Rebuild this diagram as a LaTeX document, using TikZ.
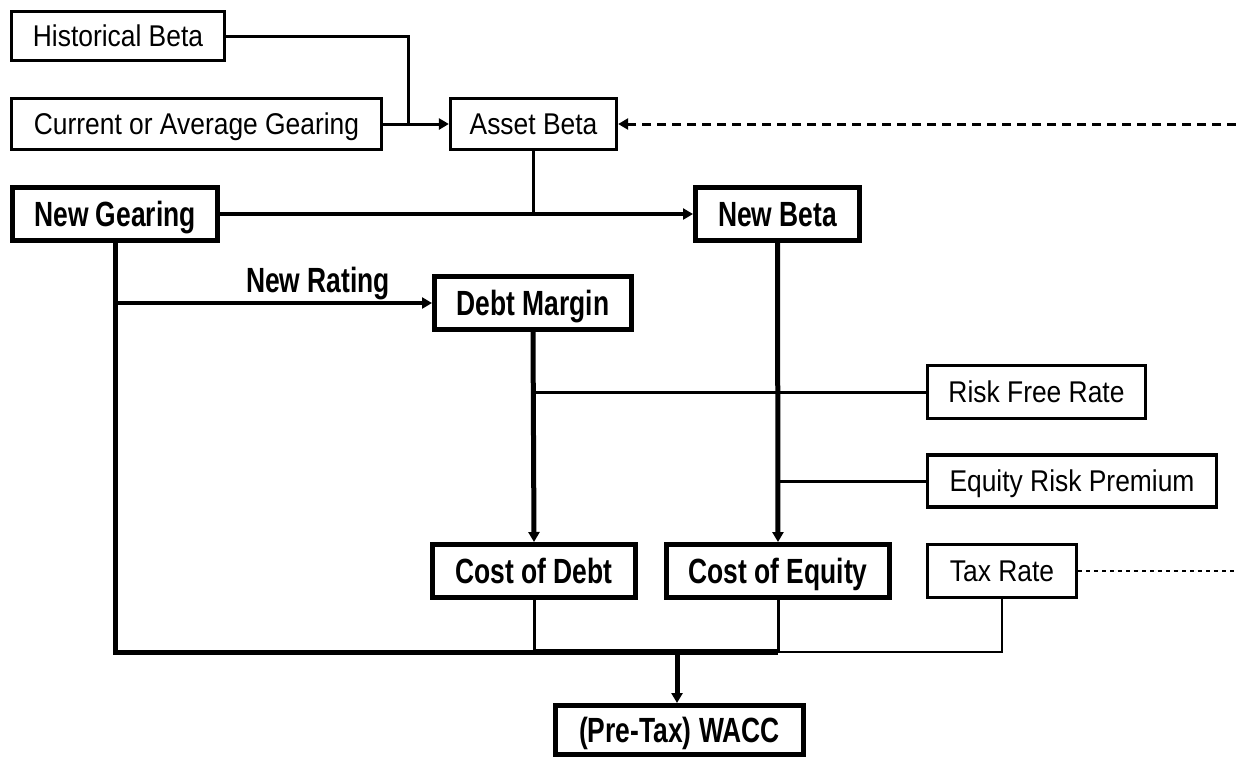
\documentclass[tikz,border=0pt]{standalone}
\usepackage{fontspec}
\usepackage{graphicx}
\setmainfont{Liberation Sans}
\usetikzlibrary{arrows.meta}
\newcommand\regtxt[1]{{\fontsize{30}{34}\selectfont\scalebox{0.88}[1]{\vphantom{H}\smash{#1}}}}
\newcommand\boldtxt[1]{{\fontsize{35}{38}\selectfont\bfseries\scalebox{0.755}[1]{\vphantom{H}\smash{#1}}}}
\tikzset{
  regbox/.style={draw=black, line width=3.3pt, inner sep=0pt, align=center},
  boldbox/.style={draw=black, line width=5pt, inner sep=0pt, align=center},
  thinline/.style={line width=3pt},
  medline/.style={line width=4.3pt},
  thickline/.style={line width=5pt},
  arr/.style={-{Triangle[length=10pt,width=11pt]}},
  dashline/.style={line width=3pt, dash pattern=on 9pt off 6pt},
  dotline/.style={line width=2.2pt, dash pattern=on 4pt off 4pt},
}
\begin{document}
\begin{tikzpicture}[x=1pt,y=-1pt]
\path[use as bounding box, fill=white] (0,0) rectangle (1236,758);

% boxes
\node[regbox, minimum width=213pt, minimum height=49pt] (hist) at (118,36) {\regtxt{Historical Beta}};
\node[regbox, minimum width=370pt, minimum height=51pt] (cur) at (196.5,124) {\regtxt{Current or Average Gearing}};
\node[regbox, minimum width=166pt, minimum height=51pt] (asset) at (533.5,124) {\regtxt{Asset Beta}};
\node[boldbox, minimum width=205pt, minimum height=53pt] (newg) at (115,214) {\boldtxt{New Gearing}};
\node[boldbox, minimum width=164pt, minimum height=53pt] (newb) at (777.5,214) {\boldtxt{New Beta}};
\node[boldbox, minimum width=197pt, minimum height=53pt] (debtm) at (533,303) {\boldtxt{Debt Margin}};
\node[regbox, minimum width=218pt, minimum height=53pt] (rfr) at (1036.5,392) {\regtxt{Risk Free Rate}};
\node[regbox, minimum width=289pt, minimum height=52pt] (erp) at (1072,481) {\regtxt{Equity Risk Premium}};
\node[boldbox, minimum width=203pt, minimum height=53pt] (cod) at (534,571) {\boldtxt{Cost of Debt}};
\node[boldbox, minimum width=223pt, minimum height=53pt] (coe) at (778,571) {\boldtxt{Cost of Equity}};
\node[regbox, minimum width=149pt, minimum height=53pt] (tax) at (1002,571) {\regtxt{Tax Rate}};
\node[boldbox, minimum width=248pt, minimum height=49pt] (wacc) at (679.5,730) {\boldtxt{(Pre-Tax) WACC}};

% label
\node[inner sep=0pt] (rating) at (318,280) {\boldtxt{New Rating}};

% helper coordinates
\coordinate (j1) at (408,124);
\coordinate (dashend) at (1236,124);
\coordinate (dotend) at (1236,571);
\coordinate (bus) at (677,652);

% top connectors
\draw[thinline] (hist.east) -| (j1);
\draw[thinline, arr] (cur.east) -- (asset.west);
\draw[dashline, arr] (dashend) -- (asset.east);
\draw[thinline] (asset.south) -- (asset.south |- newg.east);
\draw[medline, arr] (newg.east) -- (newb.west);

% new rating
\draw[medline, arr] (newg.south |- debtm.west) -- (debtm.west);

% debt / equity chains
\draw[thickline, arr] (debtm.south) -- (cod.north);
\draw[thickline, arr] (newb.south) -- (coe.north);
\draw[thinline] (rfr.west) -- (rfr.west -| debtm.south);
\draw[thinline] (erp.west) -- (erp.west -| newb.south);

% bottom bus
\draw[thickline, line join=miter] (newg.south) -- (newg.south |- bus) -- (cod.south |- bus);
\draw[thinline] (cod.south) -- (cod.south |- bus);
\draw[line width=6pt] (cod.south |- bus) -- (coe.south |- bus);
\draw[thinline] (coe.south) -- (coe.south |- bus);
\draw[line width=2.5pt] (coe.south |- bus) -- (tax.south |- bus) -- (tax.south);
\draw[thickline, arr] (bus) -- (bus |- wacc.north);

% tax dotted
\draw[dotline] (tax.east) -- (dotend);
\end{tikzpicture}
\end{document}
